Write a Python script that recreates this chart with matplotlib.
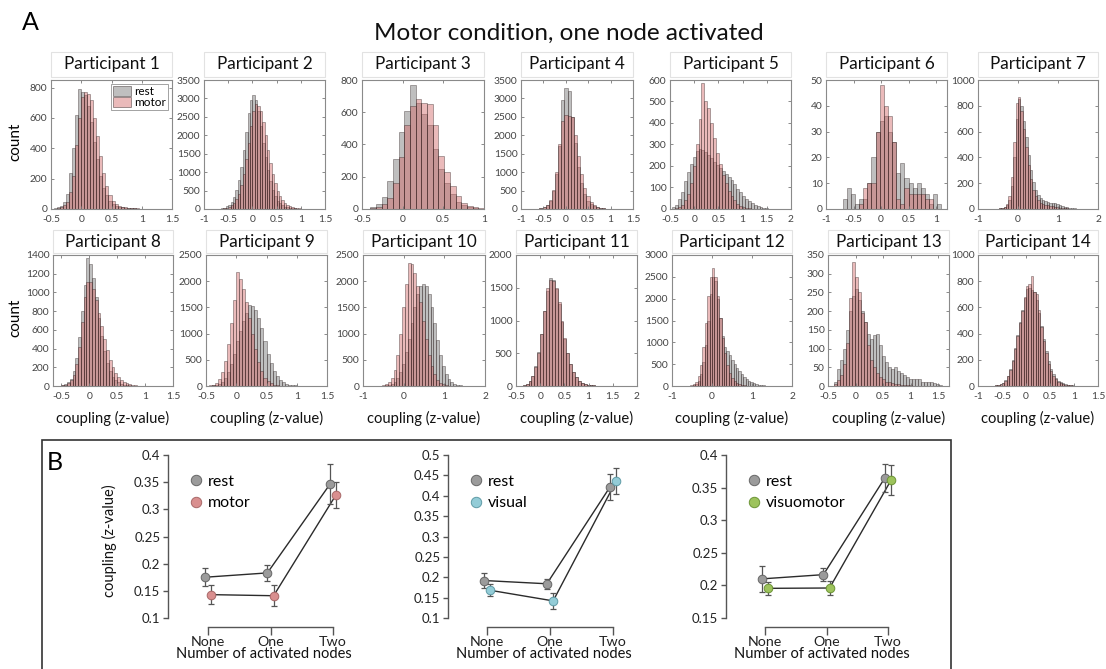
import numpy as np
import matplotlib
matplotlib.use("Agg")
import matplotlib.pyplot as plt
from matplotlib.patches import Rectangle, Patch
from matplotlib.lines import Line2D

# ---------------- data ----------------
participants = [f"Participant {i}" for i in range(1, 15)]
series_names = ["rest", "motor"]

bin_start = [-0.45, -0.8, -0.40, -0.8, -0.45, -0.70, -0.6,
             -0.6, -0.45, -0.6, -0.42, -0.6, -0.40, -0.75]
bin_width = [0.05, 0.05, 0.07, 0.07, 0.06, 0.075, 0.06,
             0.05, 0.05, 0.07, 0.06, 0.06, 0.055, 0.05]

p1_rest = [5,10,20,45,100,240,400,620,790,770,750,680,570,440,330,220,140,90,55,35,22,15,10,8,6,5,4,3,3,2,2,2,1,1]
p1_motor = [3,6,12,25,45,110,220,420,600,740,770,760,720,600,480,350,240,150,90,55,35,22,14,10,8,6,5,4,3,3,2,2,1,1]
p2_rest = [2,5,10,20,40,70,120,200,330,520,800,1150,1600,2100,2600,2950,3100,2950,2650,2250,1800,1400,1050,750,520,350,230,150,100,65,45,30,20,14,10,7,5,3,2,1,1,1]
p2_motor = [1,2,4,8,15,30,55,95,160,260,420,650,950,1350,1800,2250,2650,2850,2800,2650,2350,2000,1600,1250,950,700,500,350,240,160,110,75,50,35,25,17,12,8,5,3,2,1]
p3_rest = [10,30,72,175,310,480,610,770,660,590,520,370,250,160,90,45,25,12,6,3]
p3_motor = [5,12,30,70,160,320,520,640,680,660,650,520,330,230,140,80,40,20,10,5]
p4_rest = [3,6,12,25,50,110,230,480,950,1700,2950,3280,3200,2500,1800,1150,700,400,230,130,75,45,25,15,10,6,4,3,2,1,1]
p4_motor = [3,6,12,25,55,120,250,520,1000,1750,2400,2560,2530,2500,2000,1450,950,580,340,190,110,60,35,20,12,8,5,3,2,1,1]
p5_rest = [10,20,45,80,130,170,210,240,270,280,275,265,250,235,220,205,190,175,165,150,135,115,95,80,62,48,36,26,18,12,8,5,3,2,1,1,0]
p5_motor = [2,5,10,20,40,70,120,200,300,420,585,500,470,400,330,260,210,160,120,85,60,40,25,15,10,6,4,2,1,1,0,0,0,0,0,0,0]
p6_rest = [4,8,6,2,4,4,10,20,30,34,36,30,26,14,18,12,10,8,10,8,6,2,6,2]
p6_motor = [0,0,0,0,2,8,10,10,30,48,40,36,26,4,2,8,6,6,6,6,4,4,0,0]
p7_rest = [1,2,4,8,15,30,70,180,400,700,850,800,680,560,420,300,210,150,110,85,70,60,55,50,50,45,40,32,25,18,12,8,6,4,3,2,2,1,1,1]
p7_motor = [1,2,4,8,18,40,100,250,520,820,870,760,620,480,340,230,150,100,70,50,40,32,28,24,20,17,14,11,8,6,4,3,2,2,1,1,1,0,0,0]
p8_rest = [2,5,10,20,40,80,160,300,520,800,1080,1370,1300,1150,950,730,530,370,250,160,100,65,40,25,15,10,6,4,3,2,1,1,1,0,0,0,0,0]
p8_motor = [2,4,8,15,30,60,120,230,420,680,950,1110,1110,1040,920,780,640,500,380,280,200,140,95,65,45,30,20,13,8,5,3,2,1,1,0,0,0,0]
p9_rest = [5,10,20,40,80,150,260,420,620,850,1050,1250,1400,1550,1520,1450,1300,1100,850,620,430,290,190,120,75,45,28,17,10,6,4,3,2,1,1,1]
p9_motor = [10,25,60,130,260,480,800,1200,1650,2170,2050,1850,1600,1300,1000,700,450,280,160,90,50,28,15,8,5,3,2,1,1,0,0,0,0,0,0,0]
p10_rest = [2,5,10,20,40,80,150,260,420,640,900,1200,1500,1750,1900,1950,1900,1750,1500,1200,880,600,380,230,130,70,40,20,10,5,3,2,1,1]
p10_motor = [5,12,30,70,150,300,600,1000,1500,1950,2350,2320,2150,1900,1600,1250,900,600,380,220,120,65,35,18,9,5,3,2,1,1,0,0,0,0]
p11_rest = [5,15,35,80,160,300,520,800,1150,1450,1650,1620,1480,1250,980,720,500,330,210,130,80,50,30,20,14,10,7,5,4,3,2,2,1,1,1,0]
p11_motor = [4,12,30,70,150,290,500,800,1150,1500,1620,1600,1500,1280,1000,740,510,340,215,130,80,50,30,20,13,9,6,4,3,2,2,1,1,1,0,0]
p12_rest = [3,8,20,50,120,280,550,950,1500,2100,2500,2400,2000,1550,1150,900,800,700,600,500,420,340,270,210,160,120,90,65,45,32,22,15,10,7,5,3,2,1,1,1]
p12_motor = [4,12,35,90,220,480,900,1450,2050,2500,2700,2500,2050,1550,1100,750,480,300,180,110,65,40,25,15,9,5,3,2,1,1,0,0,0,0,0,0,0,0,0,0]
p13_rest = [10,45,70,100,150,200,240,260,230,200,170,140,125,135,140,110,80,65,50,45,50,40,35,30,25,20,20,18,20,12,10,12,10,8,5,3,1]
p13_motor = [5,15,30,60,115,235,330,290,250,195,170,110,70,50,35,25,18,12,10,8,6,5,4,3,2,2,1,1,1,0,0,0,0,0,0,0,0]
p14_rest = [2,3,5,8,15,25,45,80,130,200,290,390,490,580,670,740,750,730,720,660,560,460,360,270,190,130,90,60,40,28,20,14,10,7,5,3,2,1,1]
p14_motor = [2,3,5,8,15,25,40,75,120,190,280,380,480,570,680,760,780,840,720,700,580,450,340,250,170,115,75,50,32,22,15,10,7,5,3,2,1,1,0]

rest_counts = [p1_rest, p2_rest, p3_rest, p4_rest, p5_rest, p6_rest, p7_rest,
               p8_rest, p9_rest, p10_rest, p11_rest, p12_rest, p13_rest, p14_rest]
motor_counts = [p1_motor, p2_motor, p3_motor, p4_motor, p5_motor, p6_motor, p7_motor,
                p8_motor, p9_motor, p10_motor, p11_motor, p12_motor, p13_motor, p14_motor]

x_limits = [(-0.5, 1.5), (-1, 1.5), (-0.5, 1), (-1, 1.5), (-0.5, 2), (-1, 1.2), (-1, 2),
            (-0.65, 1.5), (-0.5, 1.5), (-1, 2), (-0.5, 2), (-1, 2), (-0.5, 1.7), (-1, 1.5)]
x_ticks = [[-0.5, 0, 0.5, 1, 1.5], [-1, -0.5, 0, 0.5, 1, 1.5], [-0.5, 0, 0.5, 1],
           [-1, -0.5, 0, 0.5, 1, 1.5], [-0.5, 0, 0.5, 1, 1.5, 2], [-1, -0.5, 0, 0.5, 1],
           [-1, 0, 1, 2], [-0.5, 0, 0.5, 1, 1.5], [-0.5, 0, 0.5, 1, 1.5], [-1, 0, 1, 2],
           [-0.5, 0, 0.5, 1, 1.5, 2], [-1, 0, 1, 2], [-0.5, 0, 0.5, 1, 1.5],
           [-1, -0.5, 0, 0.5, 1, 1.5]]
y_max = [850, 3500, 800, 3500, 600, 50, 1000, 1400, 2500, 2500, 2000, 3000, 350, 1000]
y_step = [200, 500, 200, 500, 100, 10, 200, 200, 500, 500, 500, 500, 50, 200]

# panel B
node_labels = ["None", "One", "Two"]
b_conditions = ["motor", "visual", "visuomotor"]
rest_m = [0.175, 0.183, 0.346]; rest_m_err = [0.017, 0.014, 0.037]
motor_m = [0.143, 0.141, 0.327]; motor_m_err = [0.017, 0.019, 0.024]
rest_v = [0.192, 0.184, 0.421]; rest_v_err = [0.019, 0.012, 0.032]
visual_m = [0.168, 0.142, 0.436]; visual_m_err = [0.015, 0.019, 0.032]
rest_vm = [0.210, 0.2165, 0.365]; rest_vm_err = [0.020, 0.010, 0.0215]
visuomotor_m = [0.1955, 0.196, 0.3615]; visuomotor_m_err = [0.010, 0.011, 0.0225]
b_yticks = [[0.1, 0.15, 0.2, 0.25, 0.3, 0.35, 0.4],
            [0.1, 0.15, 0.2, 0.25, 0.3, 0.35, 0.4, 0.45, 0.5],
            [0.15, 0.2, 0.25, 0.3, 0.35, 0.4]]

# ---------------- style ----------------
plt.rcParams['font.family'] = ['Lato', 'DejaVu Sans']
plt.rcParams['axes.unicode_minus'] = False
TICK_FAMILY = ['Liberation Sans Narrow', 'Lato', 'DejaVu Sans']

W, H = 1106, 669
fig = plt.figure(figsize=(W / 100, H / 100), dpi=100)


def px_rect(l, t, r, b):
    return [l / W, 1 - b / H, (r - l) / W, (b - t) / H]


REST_FACE = (0.45, 0.45, 0.45, 0.45)
TASK_FACE = (0.82, 0.40, 0.40, 0.45)
EDGE = (0.15, 0.1, 0.1, 0.5)

row_tb = [(80, 209), (255, 386)]
title_tb = [(52, 77), (230, 253)]
cols = [[(51, 172), (204, 325), (362, 484), (521, 633), (670, 791), (826, 947), (978, 1098)],
        [(53, 173), (206, 327), (363, 485), (516, 637), (672, 792), (828, 949), (978, 1098)]]

for i in range(14):
    r = i // 7
    c = i % 7
    l, rr = cols[r][c]
    t, b = row_tb[r]
    ax = fig.add_axes(px_rect(l, t, rr, b))
    n = len(rest_counts[i])
    edges = bin_start[i] + bin_width[i] * np.arange(n)
    ax.bar(edges, rest_counts[i], width=bin_width[i], align='edge',
           color=REST_FACE, edgecolor=EDGE, linewidth=0.5, label=series_names[0])
    ax.bar(edges, motor_counts[i], width=bin_width[i], align='edge',
           color=TASK_FACE, edgecolor=EDGE, linewidth=0.5, label=series_names[1])
    ax.set_xlim(*x_limits[i])
    ax.set_ylim(0, y_max[i])
    ax.set_xticks(x_ticks[i])
    ax.set_xticklabels([f"{v:g}" for v in x_ticks[i]])
    yt = np.arange(0, y_max[i] + 1, y_step[i])
    ax.set_yticks(yt)
    ax.set_yticklabels([f"{v:g}" for v in yt])
    ax.tick_params(direction='in', top=True, right=True, length=2.5, width=0.6,
                   labelsize=7.4, labelcolor='#444444', color='#777777')
    ax.tick_params(axis='x', pad=4.5)
    ax.tick_params(axis='y', pad=2.5)
    for lab in ax.get_xticklabels() + ax.get_yticklabels():
        lab.set_family(TICK_FAMILY)
    for s in ax.spines.values():
        s.set_color('#8a8a8a')
        s.set_linewidth(0.8)
    # title box
    tt, tb = title_tb[r]
    fig.add_artist(Rectangle((l / W, 1 - tb / H), (rr - l) / W, (tb - tt) / H,
                             transform=fig.transFigure, fill=False,
                             edgecolor='#e2e2e2', linewidth=0.8))
    fig.text((l + rr) / 2 / W, 1 - (tt + tb) / 2 / H, participants[i],
             ha='center', va='center', fontsize=12.3, color='#111111')
    if r == 1:
        fig.text((l + rr) / 2 / W, 1 - 418 / H, "coupling (z-value)",
                 ha='center', va='center', fontsize=10.6, color='#111111')
    if i == 0:
        handles = [Patch(facecolor=REST_FACE, edgecolor=EDGE, linewidth=0.6),
                   Patch(facecolor=TASK_FACE, edgecolor=EDGE, linewidth=0.6)]
        leg = ax.legend(handles, series_names, loc='upper right', fontsize=8.5,
                        frameon=True, fancybox=False, borderpad=0.2,
                        handlelength=1.5, handleheight=0.9, handletextpad=0.3,
                        labelspacing=0.0, borderaxespad=0.3)
        leg.get_frame().set_edgecolor('#777777')
        leg.get_frame().set_linewidth(0.6)

fig.text(15 / W, 1 - 142 / H, "count", rotation=90, ha='center', va='center', fontsize=11)
fig.text(15 / W, 1 - 318 / H, "count", rotation=90, ha='center', va='center', fontsize=11)
fig.text(569 / W, 1 - 33 / H, "Motor condition, one node activated",
         ha='center', va='center', fontsize=17.5, color='#111111')
fig.text(30 / W, 1 - 22 / H, "A", ha='center', va='center', fontsize=18)

# ---------------- panel B ----------------
fig.add_artist(Rectangle((42 / W, 1 - 690 / H), (951 - 42) / W, (690 - 440) / H,
                         transform=fig.transFigure, fill=False,
                         edgecolor='#333333', linewidth=1.2))
fig.text(55 / W, 1 - 463 / H, "B", ha='center', va='center', fontsize=18)

b_axes_px = [(168, 360), (448, 640), (726, 918)]
b_zero_px = [208, 487, 765]
b_unit_px = [62.5, 63.0, 61.5]
b_rest = [rest_m, rest_v, rest_vm]
b_rest_err = [rest_m_err, rest_v_err, rest_vm_err]
b_task = [motor_m, visual_m, visuomotor_m]
b_task_err = [motor_m_err, visual_m_err, visuomotor_m_err]
task_colors = [('#d98f8f', '#a86868'), ('#93ccd7', '#5f9ba6'), ('#9dc35c', '#6c9436')]
rest_colors = ('#9b9b9b', '#666666')

top_px, tick_bottom_px, axis_px = 455, 618, 627
for k in range(3):
    l, rr = b_axes_px[k]
    ax = fig.add_axes(px_rect(l, top_px, rr, axis_px))
    yt = b_yticks[k]
    per_px = (yt[-1] - yt[0]) / (tick_bottom_px - top_px)
    ax.set_ylim(yt[0] - (axis_px - tick_bottom_px) * per_px, yt[-1])
    ax.set_xlim((l - b_zero_px[k]) / b_unit_px[k], (rr - b_zero_px[k]) / b_unit_px[k])
    x = np.arange(len(node_labels))
    xr = x - 0.05
    xt = x + 0.05
    ax.plot(xr, b_rest[k], color='#2b2b2b', lw=1.0, zorder=1)
    ax.plot(xt, b_task[k], color='#2b2b2b', lw=1.0, zorder=1)
    ax.errorbar(xr, b_rest[k], yerr=b_rest_err[k], fmt='none', ecolor='#555555',
                elinewidth=0.9, capsize=2.5, capthick=0.9, zorder=2)
    ax.errorbar(xt, b_task[k], yerr=b_task_err[k], fmt='none', ecolor='#555555',
                elinewidth=0.9, capsize=2.5, capthick=0.9, zorder=2)
    ax.plot(xr, b_rest[k], 'o', ms=6.2, mfc=rest_colors[0], mec=rest_colors[1],
            mew=0.7, zorder=3, label='rest')
    ax.plot(xt, b_task[k], 'o', ms=6.2, mfc=task_colors[k][0], mec=task_colors[k][1],
            mew=0.7, zorder=3, label=b_conditions[k])
    for s in ['top', 'right']:
        ax.spines[s].set_visible(False)
    ax.spines['left'].set_bounds(yt[0], yt[-1])
    ax.spines['bottom'].set_bounds(0, 2)
    for s in ['left', 'bottom']:
        ax.spines[s].set_color('#555555')
        ax.spines[s].set_linewidth(1.0)
    ax.set_yticks(yt)
    ax.set_yticklabels([f"{v:g}" for v in yt])
    ax.set_xticks(x)
    ax.set_xticklabels(node_labels)
    ax.tick_params(axis='y', direction='out', length=3.5, width=1.0, color='#555555',
                   labelsize=9.5, labelcolor='#222222', pad=2)
    ax.tick_params(axis='x', direction='out', length=6, width=1.0, color='#555555',
                   labelsize=10.3, labelcolor='#222222', pad=0.5)
    ax.patch.set_alpha(0)
    ax.set_xlabel("Number of activated nodes", fontsize=10.5, labelpad=-1, color='#111111')
    if k == 0:
        ax.set_ylabel("coupling (z-value)", fontsize=10.5, labelpad=12, color='#111111')
    handles = [Line2D([], [], ls='none', marker='o', ms=7.5, mfc=rest_colors[0],
                      mec=rest_colors[1], mew=0.7),
               Line2D([], [], ls='none', marker='o', ms=7.5, mfc=task_colors[k][0],
                      mec=task_colors[k][1], mew=0.7)]
    ax.legend(handles, ['rest', b_conditions[k]], loc='upper left',
              bbox_to_anchor=(0.11, 0.885), frameon=False, fontsize=11.5,
              handlelength=0.8, handletextpad=0.35, labelspacing=0.45,
              borderpad=0, borderaxespad=0)

fig.savefig("out.png", dpi=100)
